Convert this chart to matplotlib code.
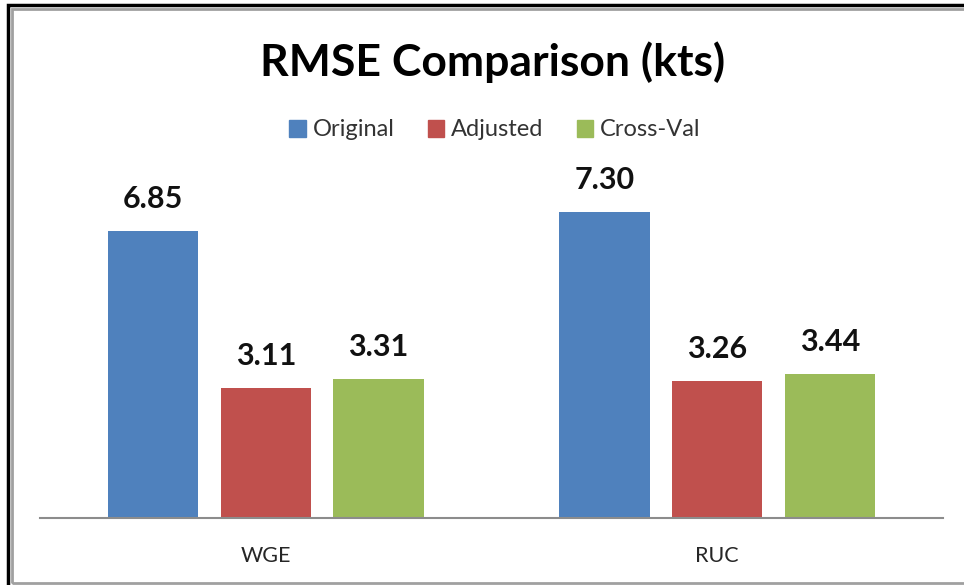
import matplotlib.pyplot as plt
import matplotlib.patches as mpatches
import numpy as np

plt.rcParams['font.family'] = ['Lato', 'DejaVu Sans']

categories = ['WGE', 'RUC']
series = ['Original', 'Adjusted', 'Cross-Val']
rmse_original = [6.85, 7.30]
rmse_adjusted = [3.11, 3.26]
rmse_crossval = [3.31, 3.44]
colors = ['#4F81BD', '#C0504D', '#9BBB59']

W, H = 964, 585
fig = plt.figure(figsize=(W / 100, H / 100), dpi=100)
fig.patch.set_facecolor('white')

# plot area in pixel terms: baseline at y=518, spans x 40..943
ax = fig.add_axes([40 / W, (H - 518) / H, 903 / W, (518 - 149) / H])

x = np.arange(len(categories))
width = 0.2
offsets = [-0.25, 0.0, 0.25]
for vals, off, col, name in zip([rmse_original, rmse_adjusted, rmse_crossval],
                                offsets, colors, series):
    bars = ax.bar(x + off, vals, width, color=col, label=name)
    for b, v in zip(bars, vals):
        ax.annotate(f'{v:.2f}', (b.get_x() + b.get_width() / 2, v),
                    xytext=(0, 13), textcoords='offset points',
                    ha='center', va='bottom', fontsize=22, fontweight='bold',
                    color='#111111')

ax.set_xlim(-0.5, 1.5)
ax.set_ylim(0, 8.8)
ax.set_yticks([])
ax.set_xticks(x)
ax.set_xticklabels(categories, fontsize=15.5, color='#262626')
ax.tick_params(axis='x', length=0, pad=20)
for s in ['top', 'right', 'left']:
    ax.spines[s].set_visible(False)
ax.spines['bottom'].set_color('#8C8C8C')
ax.spines['bottom'].set_linewidth(1.5)

fig.text(493 / W, 1 - 62 / H, 'RMSE Comparison (kts)', ha='center', va='center',
         fontsize=32, fontweight='bold', color='#000000')

handles = [mpatches.Patch(color=c) for c in colors]
fig.legend(handles, series, loc='center', bbox_to_anchor=(495 / W, 1 - 130 / H),
           ncol=3, frameon=False, fontsize=17, handlelength=0.7, handleheight=0.7,
           handletextpad=0.3, columnspacing=1.4, labelcolor='#333333')

# double border around the chart
fig.patches.append(mpatches.Rectangle((8 / W, -0.05), 1.1, 1 - 5 / H + 0.05,
                                      transform=fig.transFigure, fill=False,
                                      edgecolor='black', linewidth=2.5))
fig.patches.append(mpatches.Rectangle((11.5 / W, 2.5 / H), 1.1, 1 - 11 / H,
                                      transform=fig.transFigure, fill=False,
                                      edgecolor='#A0A0A0', linewidth=2))

fig.savefig('out.png', dpi=100)
